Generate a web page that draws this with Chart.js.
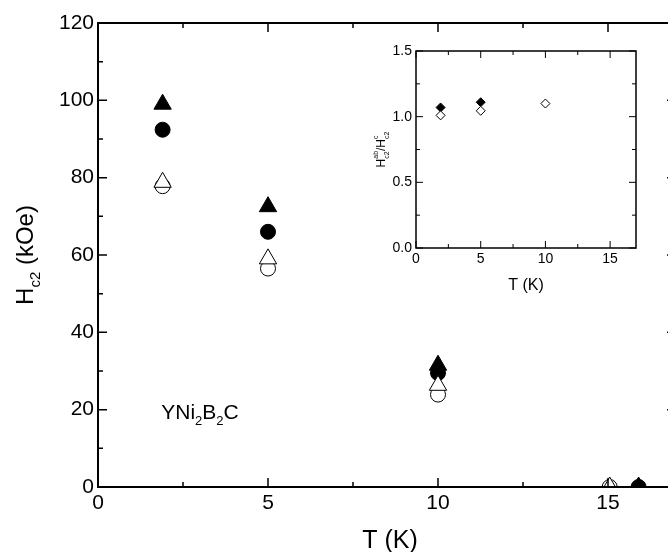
<!DOCTYPE html>
<html>
<head>
<meta charset="utf-8">
<title>YNi2B2C Hc2</title>
<script src="https://cdn.jsdelivr.net/npm/chart.js@4.4.1/dist/chart.umd.min.js"></script>
<style>
  html, body { margin: 0; padding: 0; background: #fff; }
  #wrap { position: relative; width: 668px; height: 552px; overflow: hidden; }
  #main { position: absolute; left: 0; top: 0; }
  #inset { position: absolute; left: 360px; top: 30px; }
</style>
</head>
<body>
<div id="wrap">
  <canvas id="main" width="700" height="552"></canvas>
  <canvas id="inset" width="300" height="280"></canvas>
</div>
<script>
// Hc2 vs T, main panel
const tempFilled = [1.9, 5, 10, 15.9];
const tempOpen = [1.9, 5, 10, 15.05];
const hc2FilledTri = [99, 72.5, 31.5, 0];
const hc2FilledCirc = [92.4, 66, 29.5, 0];
const hc2OpenTri = [78.8, 59, 26.3, 0];
const hc2OpenCirc = [77.8, 56.5, 23.9, 0];
const xTicks = [0, 5, 10, 15];
const yTicks = [0, 20, 40, 60, 80, 100, 120];

// anisotropy ratio, inset
const insetTempFilled = [1.9, 5];
const ratioFilled = [1.07, 1.11];
const insetTempOpen = [1.9, 5, 10];
const ratioOpen = [1.01, 1.045, 1.10];
const insetXTicks = [0, 5, 10, 15];
const insetYTicks = [0, 0.5, 1.0, 1.5];

const FONT = "'Liberation Sans', Arial, sans-serif";
Chart.defaults.font.family = FONT;
Chart.defaults.color = '#000';

function pts(xs, ys) {
    return xs.map((x, i) => ({ x: x, y: ys[i] }));
}

// frame on all four sides with inward major/minor ticks
const frameTicks = {
    id: 'frameTicks',
    afterDatasetsDraw(chart, args, o) {
        const { ctx, chartArea: a } = chart;
        const x = chart.scales.x, y = chart.scales.y;
        ctx.save();
        ctx.strokeStyle = '#000';
        ctx.lineWidth = o.tickWidth;
        ctx.beginPath();
        for (let i = 0; i * o.xStep <= x.max - x.min + 1e-9; i++) {
            const px = x.getPixelForValue(x.min + i * o.xStep);
            const len = i % 2 === 0 ? o.major : o.minor;
            ctx.moveTo(px, a.bottom); ctx.lineTo(px, a.bottom - len);
            ctx.moveTo(px, a.top); ctx.lineTo(px, a.top + len);
        }
        for (let i = 0; i * o.yStep <= y.max - y.min + 1e-9; i++) {
            const py = y.getPixelForValue(y.min + i * o.yStep);
            const len = i % 2 === 0 ? o.major : o.minor;
            ctx.moveTo(a.left, py); ctx.lineTo(a.left + len, py);
            ctx.moveTo(a.right, py); ctx.lineTo(a.right - len, py);
        }
        ctx.stroke();
        ctx.lineWidth = o.frameWidth;
        ctx.strokeRect(a.left, a.top, a.right - a.left, a.bottom - a.top);
        ctx.restore();
    }
};

// text with stacked sub/superscripts, e.g. H^ab_c2
function drawRich(ctx, parts, cx, cy, size, angle) {
    const small = Math.round(size * 0.62);
    const widthOf = (t, s) => { ctx.font = s + 'px ' + FONT; return t ? ctx.measureText(t).width : 0; };
    let total = 0;
    parts.forEach(p => {
        total += widthOf(p.t, size) + Math.max(widthOf(p.sub, small), widthOf(p.sup, small));
    });
    ctx.save();
    ctx.translate(cx, cy);
    ctx.rotate(angle);
    ctx.fillStyle = '#000';
    ctx.textBaseline = 'alphabetic';
    ctx.textAlign = 'left';
    let x = -total / 2;
    parts.forEach(p => {
        ctx.font = size + 'px ' + FONT;
        ctx.fillText(p.t, x, 0);
        x += ctx.measureText(p.t).width;
        ctx.font = small + 'px ' + FONT;
        if (p.sub) ctx.fillText(p.sub, x, size * 0.3);
        if (p.sup) ctx.fillText(p.sup, x, -size * 0.55);
        x += Math.max(widthOf(p.sub, small), widthOf(p.sup, small));
    });
    ctx.restore();
}

function fixedTicks(values) {
    return scale => { scale.ticks = values.map(v => ({ value: v })); };
}

const mainLabels = {
    id: 'mainLabels',
    afterDraw(chart) {
        const { ctx, chartArea: a } = chart;
        drawRich(ctx, [{ t: 'T (K)' }], 390, 548, 25, 0);
        drawRich(ctx, [{ t: 'H', sub: 'c2' }, { t: ' (kOe)' }], 33, (a.top + a.bottom) / 2, 24, -Math.PI / 2);
        drawRich(ctx, [{ t: 'YNi', sub: '2' }, { t: 'B', sub: '2' }, { t: 'C' }], 200, 419, 21, 0);
    }
};

new Chart(document.getElementById('main'), {
    type: 'scatter',
    data: {
        datasets: [
            { data: pts(tempOpen, hc2OpenTri), pointStyle: 'triangle', pointRadius: 10,
              backgroundColor: '#fff', borderColor: '#000', borderWidth: 1 },
            { data: pts(tempOpen, hc2OpenCirc), pointStyle: 'circle', pointRadius: 7.5,
              backgroundColor: '#fff', borderColor: '#000', borderWidth: 1 },
            { data: pts(tempFilled, hc2FilledTri), pointStyle: 'triangle', pointRadius: 10,
              backgroundColor: '#000', borderColor: '#000', borderWidth: 1 },
            { data: pts(tempFilled, hc2FilledCirc), pointStyle: 'circle', pointRadius: 7.5,
              backgroundColor: '#000', borderColor: '#000', borderWidth: 1 }
        ].map(d => Object.assign(d, { clip: 0 }))
    },
    options: {
        responsive: false,
        animation: false,
        events: [],
        layout: { padding: { left: 0, top: 23, right: 24, bottom: 0 } },
        plugins: {
            legend: { display: false },
            tooltip: { enabled: false },
            frameTicks: { xStep: 2.5, yStep: 10, major: 9, minor: 5, tickWidth: 1.5, frameWidth: 2 }
        },
        scales: {
            x: {
                type: 'linear', min: 0, max: 17,
                afterBuildTicks: fixedTicks(xTicks),
                afterFit: s => { s.height = 65; },
                grid: { display: false, drawTicks: false },
                border: { display: false },
                ticks: { font: { size: 21 }, padding: 4, maxRotation: 0 }
            },
            y: {
                type: 'linear', min: 0, max: 120,
                afterBuildTicks: fixedTicks(yTicks),
                afterFit: s => { s.width = 98; },
                grid: { display: false, drawTicks: false },
                border: { display: false },
                ticks: { font: { size: 21 }, padding: 4 }
            }
        }
    },
    plugins: [frameTicks, mainLabels]
});

const insetLabels = {
    id: 'insetLabels',
    afterDraw(chart) {
        const { ctx, chartArea: a } = chart;
        drawRich(ctx, [{ t: 'T (K)' }], (a.left + a.right) / 2, a.bottom + 42, 16, 0);
        drawRich(ctx, [{ t: 'H', sup: 'ab', sub: 'c2' }, { t: '/H', sup: 'c', sub: 'c2' }],
                 a.left - 31, (a.top + a.bottom) / 2, 12, -Math.PI / 2);
    }
};

new Chart(document.getElementById('inset'), {
    type: 'scatter',
    data: {
        datasets: [
            { data: pts(insetTempOpen, ratioOpen), pointStyle: 'rectRot', pointRadius: 4.5,
              backgroundColor: '#fff', borderColor: '#000', borderWidth: 1 },
            { data: pts(insetTempFilled, ratioFilled), pointStyle: 'rectRot', pointRadius: 4.5,
              backgroundColor: '#000', borderColor: '#000', borderWidth: 1 }
        ]
    },
    options: {
        responsive: false,
        animation: false,
        events: [],
        layout: { padding: { left: 0, top: 21, right: 24, bottom: 0 } },
        plugins: {
            legend: { display: false },
            tooltip: { enabled: false },
            frameTicks: { xStep: 2.5, yStep: 0.25, major: 7, minor: 4, tickWidth: 1, frameWidth: 1.5 }
        },
        scales: {
            x: {
                type: 'linear', min: 0, max: 17,
                afterBuildTicks: fixedTicks(insetXTicks),
                afterFit: s => { s.height = 62; },
                grid: { display: false, drawTicks: false },
                border: { display: false },
                ticks: { font: { size: 14 }, padding: 3, maxRotation: 0 }
            },
            y: {
                type: 'linear', min: 0, max: 1.5,
                afterBuildTicks: fixedTicks(insetYTicks),
                afterFit: s => { s.width = 56; },
                grid: { display: false, drawTicks: false },
                border: { display: false },
                ticks: { font: { size: 14 }, padding: 4, callback: v => v.toFixed(1) }
            }
        }
    },
    plugins: [frameTicks, insetLabels]
});
</script>
</body>
</html>
